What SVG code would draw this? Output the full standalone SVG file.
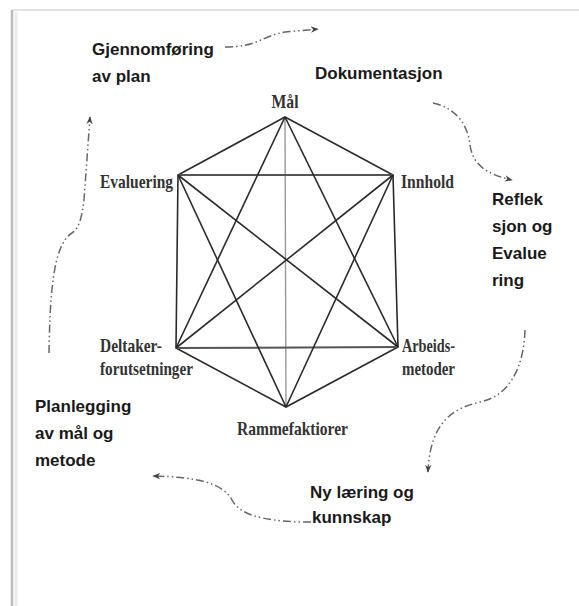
<svg xmlns="http://www.w3.org/2000/svg" width="579" height="606" viewBox="0 0 579 606">
<style>
.sans{font-family:"Liberation Sans",Arial,sans-serif;font-weight:bold;font-size:17px;fill:#1a1a1a}
.serif{font-family:"Liberation Serif","Times New Roman",serif;font-size:19px;fill:#333;font-weight:bold}
.edge{stroke:#2a2a2a;stroke-width:1.6;fill:none}
.edge2{stroke:#555;stroke-width:2;fill:none}
.axis{stroke:#999;stroke-width:1.4;fill:none}
.flow{stroke:#666;stroke-width:1.5;fill:none;stroke-dasharray:8 3 1.5 3 1.5 3}
</style>
<defs>
<marker id="ah" viewBox="0 0 10 10" refX="9" refY="5" markerWidth="8" markerHeight="8" orient="auto" markerUnits="userSpaceOnUse">
<path d="M0,1 L10,5 L0,9 L3,5 Z" fill="#444"/>
</marker>
</defs>
<rect x="0" y="0" width="579" height="606" fill="#fff"/>
<g id="frame">
<line x1="12" y1="10" x2="579" y2="10" stroke="#e2e2e2" stroke-width="2"/>
<line x1="12" y1="10" x2="12" y2="606" stroke="#bdbdbd" stroke-width="2.5"/>
<line x1="16" y1="12" x2="16" y2="606" stroke="#ececec" stroke-width="3"/>
</g>
<g id="connectors">
<g id="hexagon-lines">
<line class="axis" x1="285" y1="117" x2="286" y2="407"/>
<polygon class="edge" points="285,117 393,175 398,347 286,407 176,348 178,175"/>
<line class="edge2" x1="178" y1="175" x2="393" y2="175"/>
<line class="edge2" x1="176" y1="348" x2="398" y2="347"/>
<line class="edge" x1="285" y1="117" x2="176" y2="348"/>
<line class="edge" x1="285" y1="117" x2="398" y2="347"/>
<line class="edge" x1="286" y1="407" x2="178" y2="175"/>
<line class="edge" x1="286" y1="407" x2="393" y2="175"/>
<line class="edge" x1="178" y1="175" x2="398" y2="347"/>
<line class="edge" x1="393" y1="175" x2="176" y2="348"/>
</g>
<path class="flow" marker-end="url(#ah)" d="M225,47 C258,47 262,36 285,32 L318,29"/>
<path class="flow" marker-end="url(#ah)" d="M433,103 C456,108 468,125 470,145 C473,167 490,175 512,180"/>
<path class="flow" marker-end="url(#ah)" d="M525,330 C524,366 510,396 480,402 C455,408 430,420 428,472"/>
<path class="flow" marker-end="url(#ah)" d="M311,522 L297,522 C262,520 240,515 232,500 C222,482 195,477 153,476"/>
<path class="flow" marker-end="url(#ah)" d="M49,353 C50,300 52,245 72,233 C80,228 82,215 84,200 L90,117"/>
</g>
<g id="node-maal"><text class="serif" x="285" y="108" text-anchor="middle" textLength="27" lengthAdjust="spacingAndGlyphs">Mål</text></g>
<g id="node-innhold"><text class="serif" x="401" y="188" textLength="53" lengthAdjust="spacingAndGlyphs">Innhold</text></g>
<g id="node-evaluering"><text class="serif" x="100" y="188" textLength="73" lengthAdjust="spacingAndGlyphs">Evaluering</text></g>
<g id="node-deltaker">
<text class="serif" x="100" y="352" textLength="62" lengthAdjust="spacingAndGlyphs">Deltaker-</text>
<text class="serif" x="100" y="375" textLength="93" lengthAdjust="spacingAndGlyphs">forutsetninger</text>
</g>
<g id="node-arbeids">
<text class="serif" x="402" y="352" textLength="53" lengthAdjust="spacingAndGlyphs">Arbeids-</text>
<text class="serif" x="402" y="375" textLength="53" lengthAdjust="spacingAndGlyphs">metoder</text>
</g>
<g id="node-ramme"><text class="serif" x="237" y="435" textLength="111" lengthAdjust="spacingAndGlyphs">Rammefaktiorer</text></g>
<g id="node-gjennomforing">
<text class="sans" x="92" y="55">Gjennomføring</text>
<text class="sans" x="92" y="82">av plan</text>
</g>
<g id="node-dokumentasjon"><text class="sans" x="315" y="79">Dokumentasjon</text></g>
<g id="node-refleksjon">
<text class="sans" x="492" y="205">Reflek</text>
<text class="sans" x="492" y="232">sjon og</text>
<text class="sans" x="492" y="259">Evalue</text>
<text class="sans" x="492" y="286">ring</text>
</g>
<g id="node-nylaering">
<text class="sans" x="310" y="498">Ny læring og</text>
<text class="sans" x="312" y="523">kunnskap</text>
</g>
<g id="node-planlegging">
<text class="sans" x="35" y="412">Planlegging</text>
<text class="sans" x="35" y="439">av mål og</text>
<text class="sans" x="35" y="466">metode</text>
</g>
</svg>
